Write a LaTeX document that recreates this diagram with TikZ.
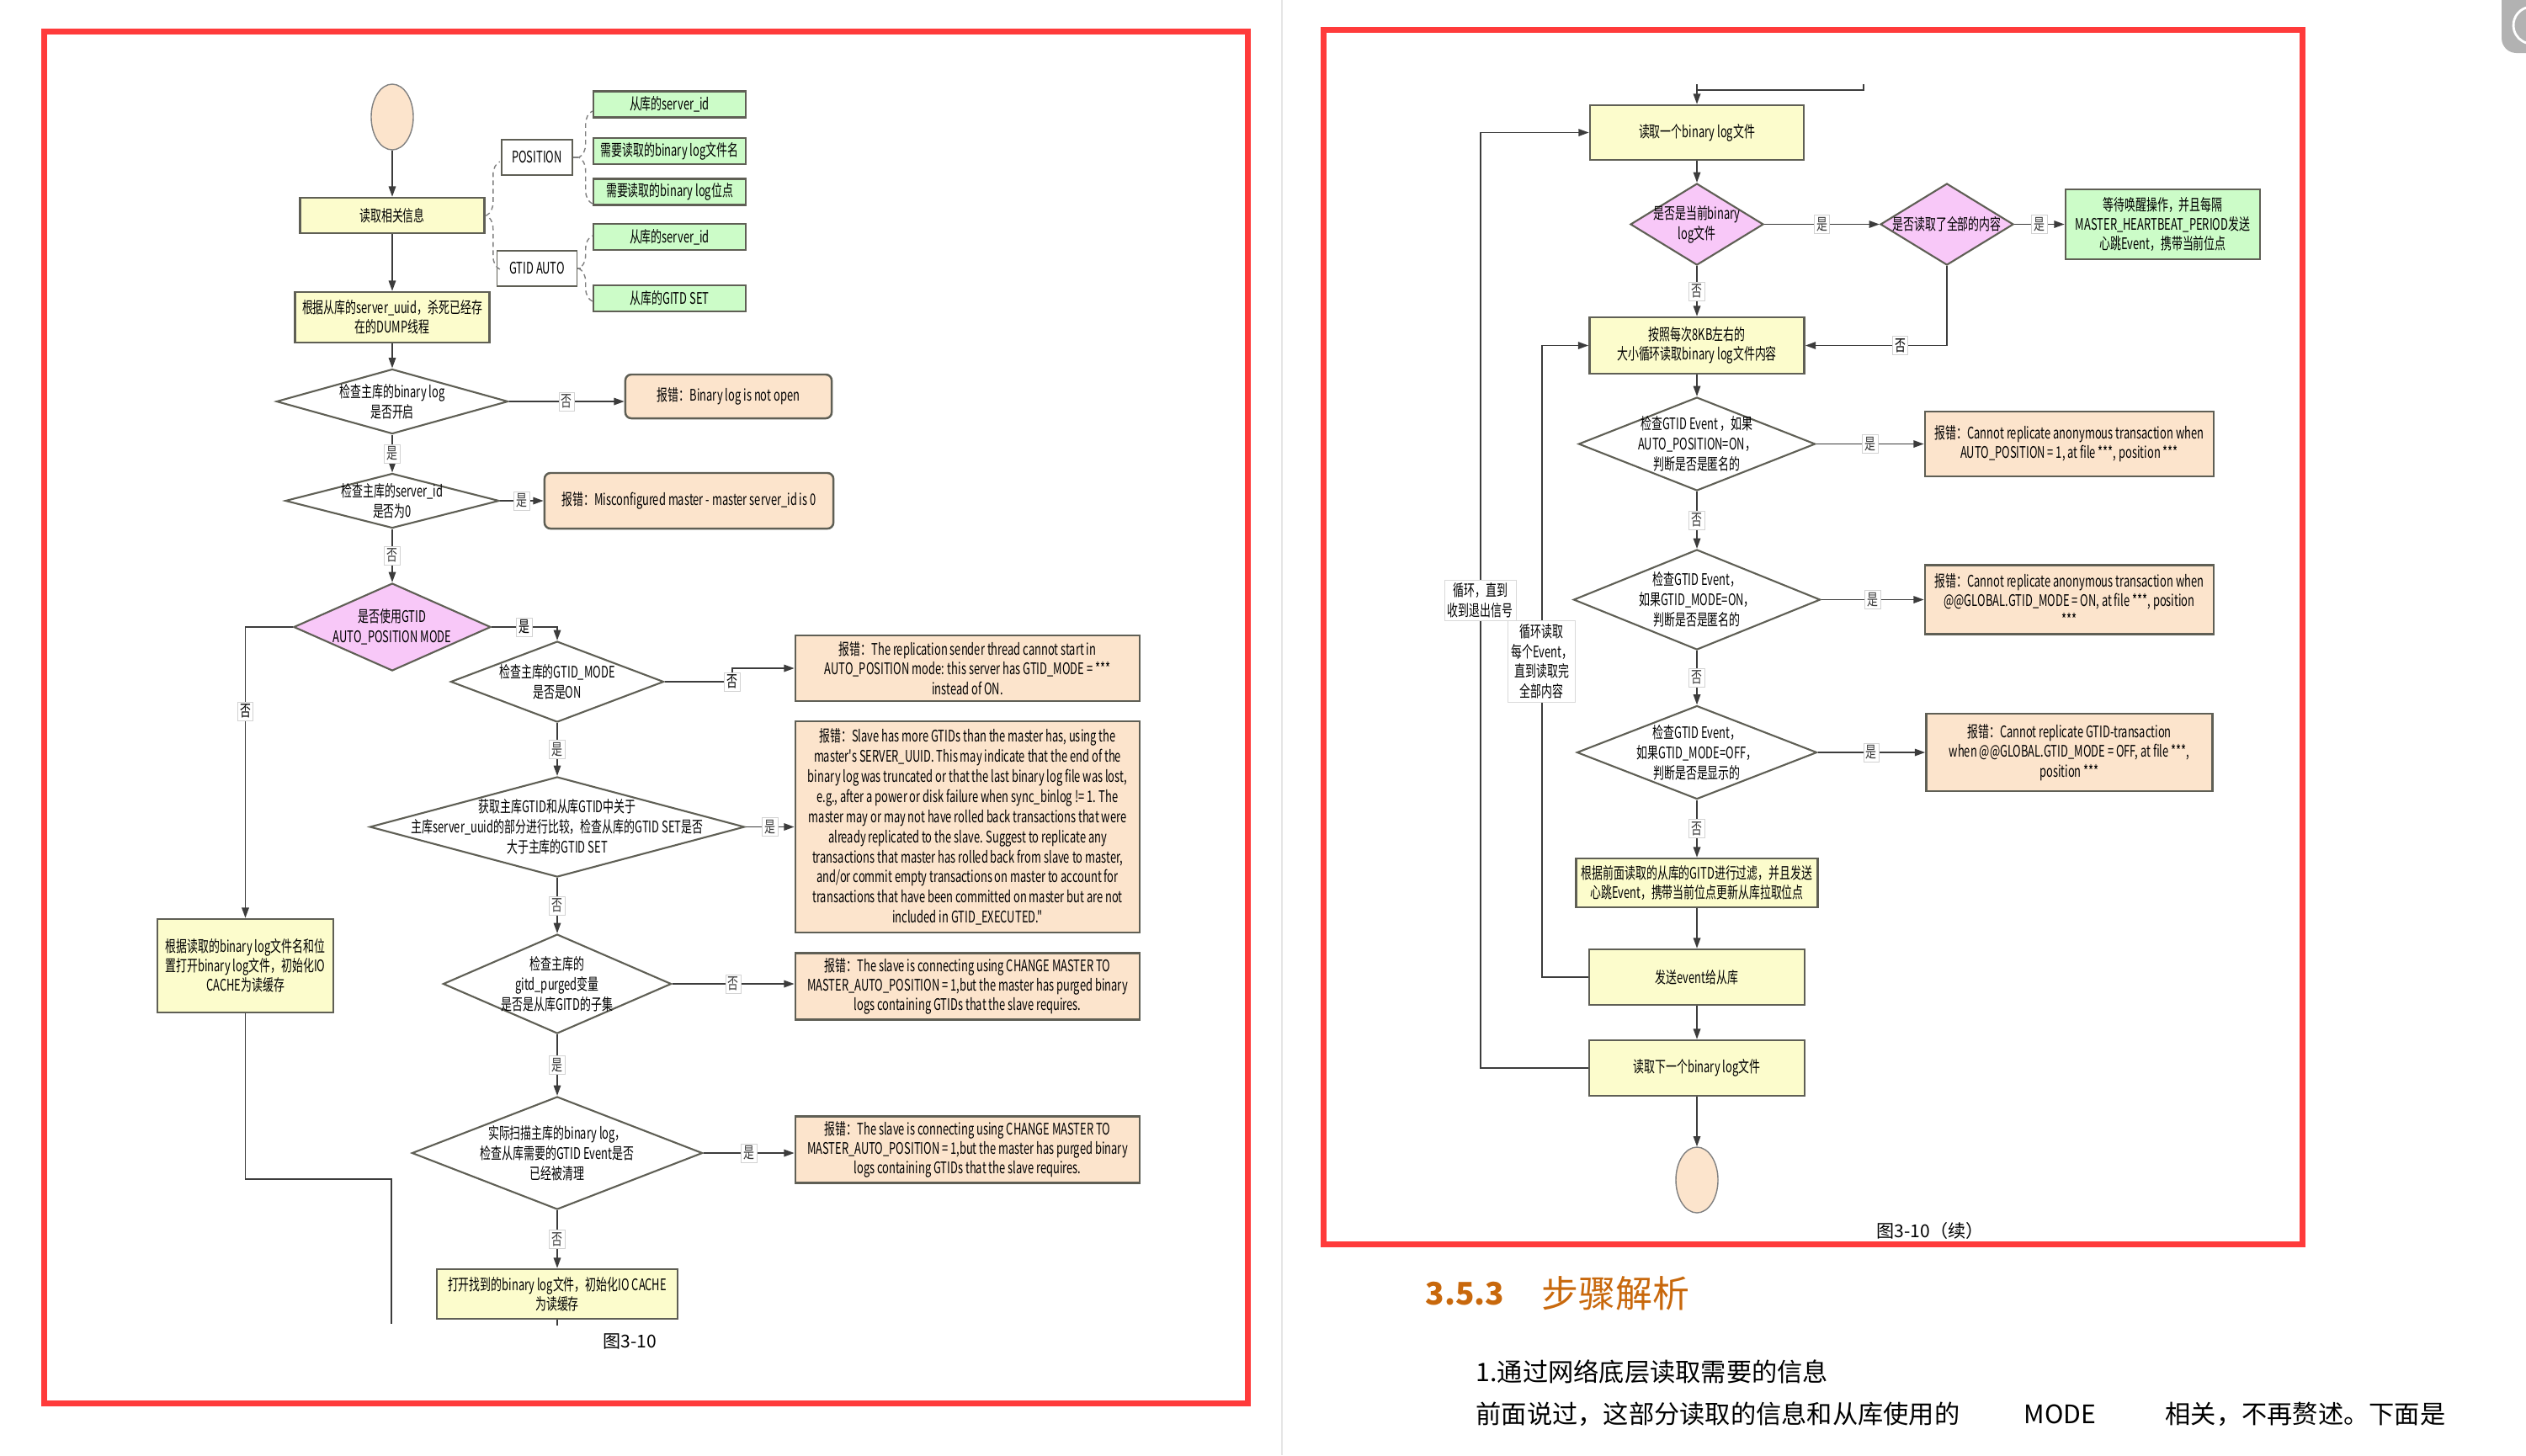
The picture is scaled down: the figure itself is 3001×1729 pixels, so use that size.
\documentclass[tikz,border=0pt]{standalone}
\usepackage{fontspec}
\usepackage{tikz}
\usetikzlibrary{arrows.meta,
                calc,
                quotes,
                shapes.geometric,
                decorations.pathreplacing}
\newfontfamily\cjk{Noto Sans CJK SC}
\newfontfamily\cjkn[FakeStretch=0.68]{Noto Sans CJK SC}
\definecolor{boxyel}{RGB}{252,252,204}
\definecolor{boxgrn}{RGB}{204,252,200}
\definecolor{boxerr}{RGB}{252,228,204}
\definecolor{boxpnk}{RGB}{248,200,248}
\definecolor{boxgray}{RGB}{95,95,85}
\definecolor{linegray}{RGB}{60,60,60}
\definecolor{framered}{RGB}{255,59,59}
\definecolor{headorg}{RGB}{200,104,12}

\begin{document}
\begin{tikzpicture}[x=0.01cm, y=-0.01cm,
every edge/.style = {draw, -{Triangle[length=3.5pt,width=2.4pt]},
linegray, line width=0.5pt},
edgelbl/.style = {font=\cjkn\fontsize{5.4}{6}\selectfont, fill=white,
draw=gray!35, line width=0.2pt, inner sep=0.8pt, anchor=center},
every edge quotes/.style = {edgelbl},
boxbase/.style = {font=\cjkn\fontsize{5.4}{6.6}\selectfont, align=center,
inner sep=1pt, draw=boxgray, line width=0.7pt, rectangle},
procbox/.style = {boxbase, fill=boxyel},
notebox/.style = {boxbase, fill=boxgrn, minimum width=1.81cm, minimum height=0.31cm},
errbox/.style = {boxbase, fill=boxerr},
tagbox/.style = {boxbase, fill=white, line width=0.5pt, minimum height=0.42cm},
decbox/.style = {diamond, draw=boxgray, line width=0.6pt, fill=white, inner sep=0pt},
pdecbox/.style = {decbox, fill=boxpnk},
dtext/.style = {font=\cjkn\fontsize{5.4}{6.8}\selectfont, align=center, inner sep=0pt},
termnode/.style = {ellipse, draw=gray, fill=boxerr, inner sep=0pt,
minimum width=0.5cm, minimum height=0.78cm},
flowline/.style = {draw=linegray, line width=0.5pt, -{Triangle[length=3.5pt,width=2.4pt]}},
bracedash/.style = {draw=gray, line width=0.4pt, dash pattern=on 1.6pt off 1.2pt,
decorate, decoration={brace, amplitude=0.16cm}},
looptag/.style = {font=\cjkn\fontsize{5.4}{6.8}\selectfont, align=center, fill=white,
draw=gray!30, line width=0.2pt, inner sep=1pt},
bodytext/.style = {anchor=west, inner sep=0pt, font=\cjk\fontsize{8.6}{10}\selectfont}
                    ]
\useasboundingbox (0,0) rectangle (3001,1729);
% page furniture
\draw[gray!20, line width=0.6pt] (1523,0) -- (1523,1729);
\draw[framered, line width=0.07cm] (52.5,37.5) rectangle (1482,1667);
\draw[framered, line width=0.07cm] (1572,35.5) rectangle (2735,1478.5);
\fill[gray!60, rounded corners=5pt] (2972,-20) rectangle (3030,63);
\draw[white, line width=0.8pt] (3008,30) ++(105:0.22cm) arc[start angle=105, end angle=255, radius=0.22cm];
%
% first part
\node[termnode] (st) at (466,139) {};
\node[procbox, minimum width=2.19cm, minimum height=0.42cm] (b1) at (466,256) {读取相关信息};
\node[procbox, minimum width=2.31cm, minimum height=0.60cm] (b2) at (466,377)
    {根据从库的server\_uuid，杀死已经存\\在的DUMP线程};
\node[tagbox, minimum width=0.84cm] (pos) at (638,187) {POSITION};
\node[tagbox, minimum width=0.95cm] (gauto) at (638,319) {GTID AUTO};
\foreach \y/\t [count=\i] in {124/{从库的server\_id}, 179.5/{需要读取的binary log文件名},
        228/{需要读取的binary log位点}, 281.5/{从库的server\_id}, 354.5/{从库的GITD SET}}
    \node[notebox] (g\i) at (795.5,\y) {\t};
\draw[bracedash] ($(b1.east)+(17,64)$) -- ($(b1.east)+(17,-64)$);
\draw[bracedash] ($(pos.east -| g1.west)+(0,55)$) -- ($(pos.east -| g1.west)+(0,-55)$);
\draw[bracedash] ($(gauto.east -| g4.west)+(0,39)$) -- ($(gauto.east -| g4.west)+(0,-39)$);
\draw[gray, line width=0.4pt, dash pattern=on 1.6pt off 1.2pt] (pos.east) -- ++(9,0);
\draw[gray, line width=0.4pt, dash pattern=on 1.6pt off 1.2pt] (gauto.east) -- ++(4,0);
%
\node[decbox, minimum width=2.75cm, minimum height=0.77cm,
    label={[dtext]center:{检查主库的binary log\\是否开启}}] (d1) at (466,477) {};
\node[errbox, rounded corners=2pt, minimum width=2.45cm, minimum height=0.52cm] (e1) at (865.5,471)
    {报错：Binary log is not open};
\node[decbox, minimum width=2.54cm, minimum height=0.65cm,
    label={[dtext]center:{检查主库的server\_id\\是否为0}}] (d2) at (466,595) {};
\node[errbox, rounded corners=2pt, minimum width=3.43cm, minimum height=0.66cm] (e2) at (818.5,595)
    {报错：Misconfigured master - master server\_id is 0};
\node[pdecbox, minimum width=2.34cm, minimum height=1.04cm,
    label={[dtext]center:{是否使用GTID\\AUTO\_POSITION MODE}}] (d3) at (466,745) {};
\node[decbox, minimum width=2.53cm, minimum height=0.96cm,
    label={[dtext]center:{检查主库的GTID\_MODE\\是否是ON}}] (d4) at (662,810) {};
\node[errbox, minimum width=4.09cm, minimum height=0.78cm] (e3) at (1149.5,794)
    {报错：The replication sender thread cannot start in\\AUTO\_POSITION mode: this server has GTID\_MODE = ***\\instead of ON.};
\node[decbox, minimum width=4.45cm, minimum height=1.19cm,
    label={[dtext]center:{获取主库GTID和从库GTID中关于\\主库server\_uuid的部分进行比较，检查从库的GTID SET是否\\大于主库的GTID SET}}]
    (d5) at (662,982.5) {};
\node[errbox, minimum width=4.09cm, minimum height=2.51cm, font=\cjkn\fontsize{5.4}{6.8}\selectfont]
    (e4) at (1149.5,982.5)
    {报错：Slave has more GTIDs than the master has, using the\\
     master's SERVER\_UUID. This may indicate that the end of the\\
     binary log was truncated or that the last binary log file was lost,\\
     e.g., after a power or disk failure when sync\_binlog != 1. The\\
     master may or may not have rolled back transactions that were\\
     already replicated to the slave. Suggest to replicate any\\
     transactions that master has rolled back from slave to master,\\
     and/or commit empty transactions on master to account for\\
     transactions that have been committed on master but are not\\
     included in GTID\_EXECUTED."};
\node[decbox, minimum width=2.71cm, minimum height=1.18cm,
    label={[dtext]center:{检查主库的\\gitd\_purged变量\\是否是从库GITD的子集}}] (d6) at (662,1169) {};
\node[errbox, minimum width=4.09cm, minimum height=0.79cm] (e5) at (1149.5,1172)
    {报错：The slave is connecting using CHANGE MASTER TO\\MASTER\_AUTO\_POSITION = 1,but the master has purged binary\\logs containing GTIDs that the slave requires.};
\node[decbox, minimum width=3.45cm, minimum height=1.34cm,
    label={[dtext]center:{实际扫描主库的binary log，\\检查从库需要的GTID Event是否\\已经被清理}}] (d7) at (662,1370) {};
\node[errbox, minimum width=4.09cm, minimum height=0.79cm] (e6) at (1149.5,1366)
    {报错：The slave is connecting using CHANGE MASTER TO\\MASTER\_AUTO\_POSITION = 1,but the master has purged binary\\logs containing GTIDs that the slave requires.};
\node[procbox, minimum width=2.86cm, minimum height=0.59cm] (b3) at (662,1537.5)
    {打开找到的binary log文件，初始化IO CACHE\\为读缓存};
\node[procbox, minimum width=2.09cm, minimum height=1.11cm] (b4) at (291.5,1147.5)
    {根据读取的binary log文件名和位\\置打开binary log文件，初始化IO\\CACHE为读缓存};
\coordinate (lcut) at (465,1573);
\coordinate (b3cut) at (662,1575);
\node[font=\cjk\fontsize{6}{7}\selectfont] (cap1) at (748,1594) {图3-10};
%
\draw (st) edge (b1)
      (b1) edge (b2)
      (b2) edge (d1)
      (d1) edge ["是"] (d2)
      (d1.east) edge ["否"] (d1.east -| e1.west)
      (d2) edge ["是"] (e2)
      (d2) edge ["否"] (d3)
      (d4) edge ["是"] (d5)
      (d5) edge ["是"] (e4)
      (d5) edge ["否"] (d6)
      (d6.east) edge ["否"] (d6.east -| e5.west)
      (d6) edge ["是"] (d7)
      (d7.east) edge ["是"] (d7.east -| e6.west)
      (d7) edge ["否"] (b3);
\draw[flowline] (d3.east) -- node[edgelbl]{是} (d3.east -| d4.north) -- (d4.north);
\draw[flowline] (d4.east) -- ++(80,0) node[edgelbl]{否} |- (e3.west);
\draw[flowline] (d3.west) -| node[edgelbl, pos=0.645]{否} (b4.north);
\draw[linegray, line width=0.5pt] (b4.south) -- ++(0,197) -| (lcut);
\draw[linegray, line width=0.5pt] (b3.south) -- (b3cut);
%
% continued part
\coordinate (intop) at (2016,100);
\coordinate (inr) at (2214,100);
\node[procbox, minimum width=2.54cm, minimum height=0.65cm] (r1) at (2016,157.5) {读取一个binary log文件};
\node[pdecbox, minimum width=1.58cm, minimum height=0.97cm,
    label={[dtext]center:{是否是当前binary\\log文件}}] (rd1) at (2016,266.5) {};
\node[pdecbox, minimum width=1.58cm, minimum height=0.97cm,
    label={[dtext]center:{是否读取了全部的内容}}] (rd2) at (2313,266.5) {};
\node[boxbase, fill=boxgrn, minimum width=2.31cm, minimum height=0.83cm] (gr) at (2569.5,266.5)
    {等待唤醒操作，并且每隔\\MASTER\_HEARTBEAT\_PERIOD发送\\心跳Event，携带当前位点};
\node[procbox, minimum width=2.55cm, minimum height=0.67cm] (r2) at (2016,410.5)
    {按照每次8KB左右的\\大小循环读取binary log文件内容};
\node[decbox, minimum width=2.81cm, minimum height=1.11cm,
    label={[dtext]center:{检查GTID Event ，如果\\AUTO\_POSITION=ON，\\判断是否是匿名的}}] (rd3) at (2016,527.5) {};
\node[errbox, minimum width=3.43cm, minimum height=0.77cm] (er1) at (2458.5,527.5)
    {报错：Cannot replicate anonymous transaction when\\AUTO\_POSITION = 1, at file ***, position ***};
\node[decbox, minimum width=2.93cm, minimum height=1.19cm,
    label={[dtext]center:{检查GTID Event，\\如果GTID\_MODE=ON，\\判断是否是匿名的}}] (rd4) at (2016,712.5) {};
\node[errbox, minimum width=3.43cm, minimum height=0.82cm] (er2) at (2458.5,712.5)
    {报错：Cannot replicate anonymous transaction when\\@@GLOBAL.GTID\_MODE = ON, at file ***, position\\***};
\node[decbox, minimum width=2.85cm, minimum height=1.11cm,
    label={[dtext]center:{检查GTID Event，\\如果GTID\_MODE=OFF，\\判断是否是显示的}}] (rd5) at (2016,894) {};
\node[errbox, minimum width=3.40cm, minimum height=0.92cm] (er3) at (2458.5,894)
    {报错：Cannot replicate GTID-transaction\\when @@GLOBAL.GTID\_MODE = OFF, at file ***,\\position ***};
\node[procbox, minimum width=2.87cm, minimum height=0.58cm] (r3) at (2016,1049)
    {根据前面读取的从库的GITD进行过滤，并且发送\\心跳Event，携带当前位点更新从库拉取位点};
\node[procbox, minimum width=2.56cm, minimum height=0.66cm] (r4) at (2016,1161) {发送event给从库};
\node[procbox, minimum width=2.56cm, minimum height=0.66cm] (r5) at (2016,1269) {读取下一个binary log文件};
\node[termnode] (en) at (2016,1402) {};
\node[font=\cjk\fontsize{6}{7}\selectfont] (cap2) at (2293,1462) {图3-10（续）};
%
\draw[flowline] (intop) -- (r1.north);
\draw[linegray, line width=0.5pt] (inr) -- ++(0,7) -| (intop);
\draw (r1) edge (rd1)
      (rd1) edge ["是"] (rd2)
      (rd2) edge ["是"] (gr)
      (rd1) edge ["否"] (r2)
      (r2) edge (rd3)
      (rd3) edge ["是"] (er1)
      (rd3) edge ["否"] (rd4)
      (rd4) edge ["是"] (er2)
      (rd4) edge ["否"] (rd5)
      (rd5) edge ["是"] (er3)
      (rd5) edge ["否"] (r3)
      (r3) edge (r4)
      (r4) edge (r5)
      (r5) edge (en);
\draw[flowline] (rd2.south) |- node[edgelbl, pos=0.665]{否} (r2.east);
\draw[flowline] (r4.west) -- ++(-55,0) |- node[looptag, pos=0.25]{循环读取\\每个Event，\\直到读取完\\全部内容} (r2.west);
\draw[flowline] (r5.west) -- ++(-128,0) |- node[looptag, pos=0.25]{循环，直到\\收到退出信号} (r1.west);
%
% text below
\node[bodytext, font=\cjk\bfseries\fontsize{10.5}{13}\selectfont, text=headorg] (secnum) at (1693,1537) {3.5.3};
\node[bodytext, font=\cjk\fontsize{12.5}{14}\selectfont, text=headorg] (sectitle) at (1831,1537) {步骤解析};
\node[bodytext] (ln1) at (1753,1630) {1.通过网络底层读取需要的信息};
\node[bodytext] (ln2) at (1753,1680) {前面说过，这部分读取的信息和从库使用的};
\node[bodytext] (ln2b) at (2404,1680) {MODE};
\node[bodytext] (ln2c) at (2572,1680) {相关，不再赘述。下面是};
\end{tikzpicture}
\end{document}
